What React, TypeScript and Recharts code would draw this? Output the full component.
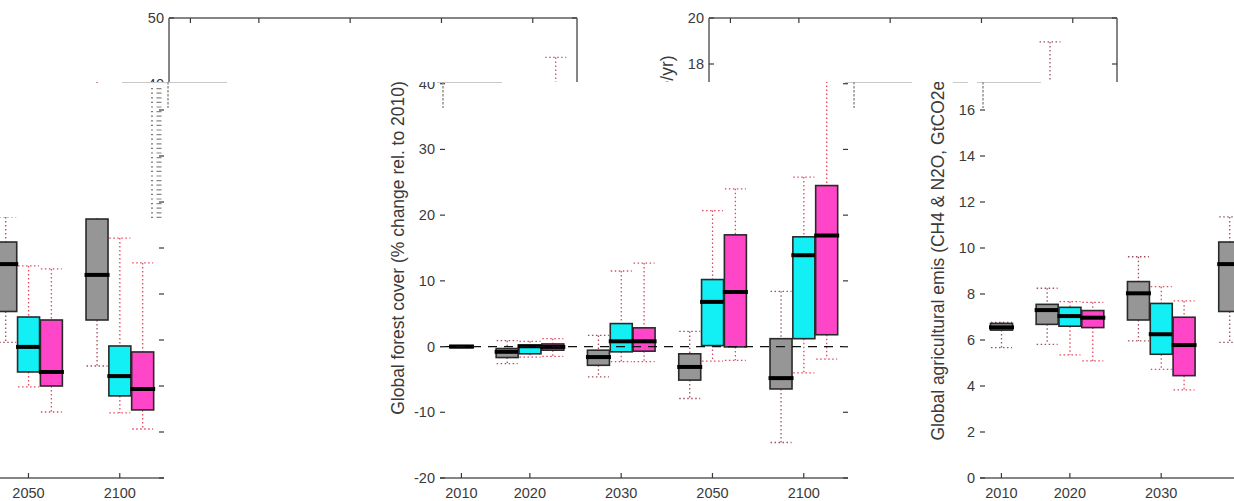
import React from "react";
import { BarChart, Bar, XAxis, YAxis, ReferenceLine } from "recharts";

// categories
const years = ["2010", "2020", "2030", "2050", "2100"];

// boxes: [lower whisker, q1, median, q3, upper whisker]
type Box = [number, number, number, number, number];

// forest cover, % change rel. to 2010
const forestGray: Box[] = [
  [-0.15, -0.15, 0, 0.15, 0.15],
  [-2.6, -1.67, -0.8, -0.3, 0.9],
  [-4.6, -2.85, -1.6, -0.55, 1.7],
  [-7.9, -5.1, -3.1, -1.1, 2.3],
  [-14.6, -6.45, -4.8, 1.2, 8.4],
];
const forestCyan: (Box | null)[] = [
  null,
  [-1.6, -1.1, 0.05, 0.2, 0.8],
  [-2.3, -0.8, 0.8, 3.5, 11.5],
  [-2.2, 0.15, 6.8, 10.2, 20.7],
  [-4.0, 1.2, 13.9, 16.7, 25.8],
];
const forestMagenta: (Box | null)[] = [
  null,
  [-1.5, -0.55, -0.05, 0.4, 1.2],
  [-2.3, -0.7, 0.8, 2.85, 12.7],
  [-2.1, -0.05, 8.3, 17.0, 24.0],
  [-1.9, 1.8, 16.9, 24.5, 44.0],
];

// agricultural emissions, GtCO2e/yr
const agGray: Box[] = [
  [5.67, 6.43, 6.55, 6.72, 6.77],
  [5.81, 6.68, 7.3, 7.55, 8.25],
  [5.96, 6.87, 8.03, 8.54, 9.62],
  [5.9, 7.24, 9.3, 10.26, 11.35],
  [4.87, 6.87, 8.83, 11.26, 18.96],
];
const agCyan: (Box | null)[] = [
  null,
  [5.35, 6.6, 7.04, 7.42, 7.67],
  [4.72, 5.38, 6.25, 7.59, 8.32],
  [3.96, 4.61, 5.7, 7.0, 9.22],
  [2.83, 3.57, 4.43, 5.74, 10.43],
];
const agMagenta: (Box | null)[] = [
  null,
  [5.09, 6.54, 6.97, 7.28, 7.64],
  [3.83, 4.45, 5.78, 6.99, 7.7],
  [2.87, 4.0, 4.61, 6.87, 9.09],
  [2.13, 2.96, 3.87, 5.48, 9.35],
];

const forestTicks = [-20, -10, 0, 10, 20, 30, 40, 50];
const agTicks = [0, 2, 4, 6, 8, 10, 12, 14, 16, 18, 20];

const GRAY = "#969696";
const CYAN = "#12eff5";
const MAGENTA = "#ff45c8";
const AXIS = "#858585";
const TEXT = "#3a3a3a";
const FONT = "'Liberation Sans', Arial, sans-serif";

const SEAM = 82; // rows above this come from the shifted copy
const SHIFT = 271;

// one slot per box, a blank slot between year groups
const buildSlots = (gray: Box[], cyan: (Box | null)[], magenta: (Box | null)[]) => {
  const rows: any[] = [];
  years.forEach((yr, i) => {
    if (i === 0) {
      rows.push({ key: yr, box: gray[0], fill: GRAY });
      return;
    }
    rows.push({ key: "gap" + i, box: null, fill: "none" });
    rows.push({ key: yr + "g", box: gray[i], fill: GRAY });
    rows.push({ key: yr, box: cyan[i], fill: CYAN });
    rows.push({ key: yr + "m", box: magenta[i], fill: MAGENTA });
  });
  return rows;
};

const forestSlots = buildSlots(forestGray, forestCyan, forestMagenta);
const agSlots = buildSlots(agGray, agCyan, agMagenta);

const BoxShape = (props: any) => {
  const { x, y, width, height, payload } = props;
  const b: Box | null = payload?.box;
  if (!b || x == null || y == null) return null;
  const top = Math.min(y, y + height);
  const h = Math.abs(height);
  const ppu = b[3] !== b[1] ? h / (b[3] - b[1]) : 0;
  const py = (v: number) => top + (b[3] - v) * ppu;
  const cx = x + width / 2;
  const wc = payload.fill === GRAY ? "#a0505c" : "#e0485e";
  const dot = { stroke: wc, strokeWidth: 1.3, strokeDasharray: "1.5 2.5" };
  return (
    <g>
      <line x1={cx} x2={cx} y1={py(b[4])} y2={top} {...dot} />
      <line x1={cx} x2={cx} y1={top + h} y2={py(b[0])} {...dot} />
      <line x1={x + 1} x2={x + width - 1} y1={py(b[4])} y2={py(b[4])} {...dot} />
      <line x1={x + 1} x2={x + width - 1} y1={py(b[0])} y2={py(b[0])} {...dot} />
      <rect x={x + 0.5} y={top} width={width - 1} height={h} fill={payload.fill} stroke="#2a2a2a" strokeWidth={1.6} />
      <line x1={x - 1} x2={x + width + 1} y1={py(b[2])} y2={py(b[2])} stroke="#000" strokeWidth={4} />
    </g>
  );
};

const BottomTick = ({ x, y, payload, showText }: any) => {
  if (!years.includes(payload.value)) return null;
  return (
    <g>
      <line x1={x} x2={x} y1={y - 5} y2={y} stroke={TEXT} strokeWidth={1.2} />
      {showText && (
        <text x={x} y={y + 20} textAnchor="middle" fontSize={14.5} fontFamily={FONT} fill={TEXT}>
          {payload.value}
        </text>
      )}
    </g>
  );
};

const TopTick = ({ x, y, payload }: any) => {
  if (!years.includes(payload.value)) return null;
  return <line x1={x} x2={x} y1={y} y2={y + 5} stroke={TEXT} strokeWidth={1.2} />;
};

// yMin/yMax: only the labels that can show in this copy's band
const LeftTick = ({ x, y, payload, yMin, yMax }: any) => (
  <g>
    <line x1={x} x2={x + 5} y1={y} y2={y} stroke={TEXT} strokeWidth={1.2} />
    {y >= yMin && y <= yMax && (
      <text x={x - 5} y={y} dy={5} textAnchor="end" fontSize={14.5} fontFamily={FONT} fill={TEXT}>
        {payload.value}
      </text>
    )}
  </g>
);

const RightTick = ({ x, y }: any) => <line x1={x - 5} x2={x} y1={y} y2={y} stroke={TEXT} strokeWidth={1.2} />;

const AxisTitle = (props: any) => {
  const vb = props.viewBox;
  if (!vb) return null;
  const cx = vb.x + vb.width - 42;
  const cy = vb.y + vb.height / 2;
  return (
    <text
      x={cx}
      y={cy}
      transform={`rotate(-90 ${cx} ${cy})`}
      textAnchor="middle"
      dominantBaseline="central"
      fontSize={17.5}
      fontFamily={FONT}
      fill={TEXT}
    >
      {props.title}
    </text>
  );
};

interface PanelProps {
  kind: "forest" | "ag";
  left: number;
  frame?: boolean;
  labels?: boolean;
}

const Panel: React.FC<PanelProps> = ({ kind, left, frame = false, labels = true }) => {
  const forest = kind === "forest";
  const data = forest ? forestSlots : agSlots;
  const ticks = forest ? forestTicks : agTicks;
  const domain = [ticks[0], ticks[ticks.length - 1]];
  const title = forest
    ? "Global forest cover (% change rel. to 2010)"
    : "Global agricultural emis (CH4 & N2O, GtCO2e/yr)";
  const line = { stroke: AXIS, strokeWidth: 2 };
  const yMin = frame ? -99 : SEAM - 8;
  const yMax = frame ? SEAM + 8 : labels ? 999 : -999;

  return (
    <div style={{ position: "absolute", left, top: 0 }}>
      <BarChart
        width={500}
        height={501}
        data={data}
        margin={{ top: frame ? 17 : 18, right: 0, bottom: 0, left: 0 }}
        barCategoryGap={0}
        barGap={0}
      >
        <XAxis
          dataKey="key"
          interval={0}
          height={23}
          padding={{ left: 10, right: 10 }}
          tickSize={0}
          tickMargin={0}
          tickLine={false}
          axisLine={line}
          tick={<BottomTick showText={!frame} />}
        />
        <XAxis
          xAxisId="top"
          dataKey="key"
          orientation="top"
          interval={0}
          height={1}
          hide={!frame}
          padding={{ left: 10, right: 10 }}
          tickSize={0}
          tickMargin={0}
          tickLine={false}
          axisLine={line}
          tick={<TopTick />}
        />
        <YAxis
          type="number"
          width={80}
          domain={domain}
          ticks={ticks}
          interval={0}
          allowDataOverflow
          tickSize={0}
          tickMargin={0}
          tickLine={false}
          axisLine={frame ? line : false}
          tick={<LeftTick yMin={yMin} yMax={yMax} />}
          label={labels ? { content: (p: any) => <AxisTitle {...p} title={title} /> } : undefined}
        />
        <YAxis
          yAxisId="right"
          orientation="right"
          type="number"
          width={12}
          domain={domain}
          ticks={ticks}
          interval={0}
          allowDataOverflow
          tickSize={0}
          tickMargin={0}
          tickLine={false}
          axisLine={frame ? line : false}
          tick={<RightTick />}
        />
        {forest && <ReferenceLine y={0} stroke="#111" strokeWidth={1.3} strokeDasharray="9 7" />}
        <Bar
          dataKey={(d: any) => (d.box ? [d.box[1], d.box[3]] : null)}
          shape={<BoxShape />}
          isAnimationActive={false}
        />
      </BarChart>
    </div>
  );
};

// light rendering seams where the two bands meet
const seamRules = [
  [122, 227],
  [437, 502],
  [845, 912],
  [953, 968],
  [977, 1041],
];
const seamDashes = [168, 443, 854, 983];

const Seam = () => (
  <svg width={1234} height={501} style={{ position: "absolute", left: 0, top: 0, pointerEvents: "none" }}>
    {/* blank patch in the wrapped strip, left edge */}
    <rect x={0} y={SEAM + 1} width={146} height={134} fill="#fff" />
    {seamRules.map(([a, b], i) => (
      <line key={"r" + i} x1={a} x2={b} y1={SEAM + 0.5} y2={SEAM + 0.5} stroke="#c9c9c9" strokeWidth={1} />
    ))}
    {seamDashes.map((sx, i) => (
      <line key={"d" + i} x1={sx} x2={sx} y1={SEAM} y2={SEAM + 26} stroke="#999" strokeWidth={1.6} strokeDasharray="2.5 1.5" />
    ))}
    <line x1={152} x2={152} y1={SEAM + 6} y2={218} stroke="#777" strokeWidth={2} strokeDasharray="1.2 3.4" />
    <line x1={159} x2={159} y1={SEAM + 6} y2={218} stroke="#888" strokeWidth={5} strokeDasharray="1.2 3.4" />
  </svg>
);

export default function App() {
  return (
    <div
      style={{
        position: "absolute",
        left: 0,
        top: 0,
        width: 1234,
        height: 501,
        overflow: "hidden",
        background: "#fff",
      }}
    >
      <div style={{ position: "absolute", left: 0, top: 0, width: 1234, height: SEAM, overflow: "hidden" }}>
        <Panel kind="forest" left={360 - SHIFT} frame labels={false} />
        <Panel kind="ag" left={900 - SHIFT} frame />
      </div>
      <div style={{ position: "absolute", left: 0, top: SEAM, width: 1234, height: 501 - SEAM, overflow: "hidden" }}>
        <div style={{ position: "absolute", left: 0, top: -SEAM, width: 1234, height: 501 }}>
          <Panel kind="ag" left={900 - 1224} labels={false} />
          <Panel kind="forest" left={360} />
          <Panel kind="ag" left={900} />
        </div>
      </div>
      <Seam />
    </div>
  );
}
